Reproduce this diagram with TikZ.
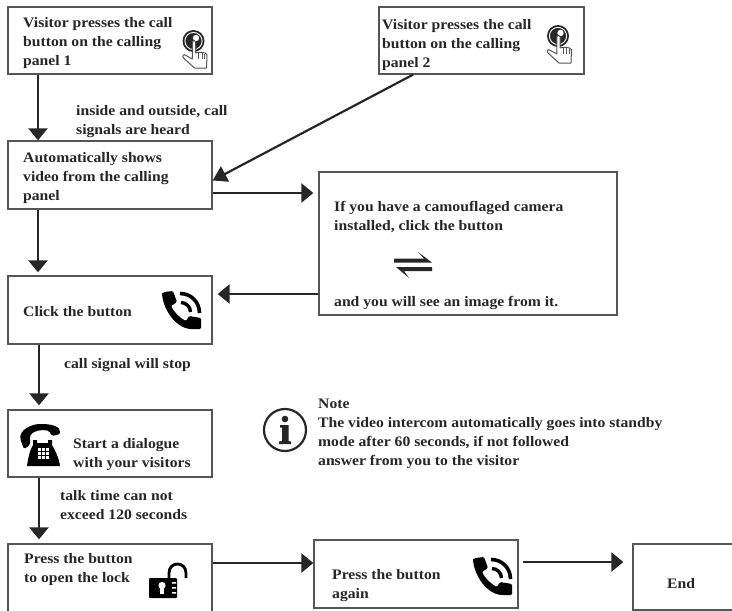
\documentclass[tikz,border=0pt]{standalone}
\usepackage{fontspec}
\setmainfont[FakeStretch=1.08]{Liberation Serif}
\usetikzlibrary{arrows.meta}
\definecolor{ink}{HTML}{262626}
\definecolor{edge}{HTML}{555555}
\tikzset{
  x=1pt,y=-1pt,
  box/.style={draw=edge,line width=1.3pt,fill=white,inner sep=0pt},
  lab/.style={anchor=north west,inner sep=0pt,align=left,text=ink,
     font=\bfseries\fontsize{14.5}{19}\selectfont},
  arr/.style={draw=ink,line width=2.6pt,-{Triangle[width=19pt,length=12pt]}},
  thinarr/.style={draw=ink,line width=2.2pt,-{Triangle[width=17pt,length=14pt]}},
  pics/handset/.style={code={
    \fill[black,rounded corners=1.2pt] (0,3) -- (2,1) -- (11,0) -- (15,11) -- (9,15)
      .. controls (12,21) and (18,27) .. (24,30) -- (27,25) -- (39,27) -- (39,38) -- (28,38)
      .. controls (14,36) and (2,20) .. (0,3) -- cycle;
    \draw[black,line width=3.6pt] (18,2.5) .. controls (29,2.5) and (37.5,11) .. (37.5,22);
    \draw[black,line width=3.4pt] (19,11.5) .. controls (24,11.5) and (28.5,16) .. (28.5,21);
  }},
  pics/pushbtn/.style={code={
    \fill[black!85] (0,0) circle[radius=11];
    \draw[white,line width=0.9pt] (0,0) circle[radius=8.6];
    \fill[white] (2.5,-3) circle[radius=3.2];
    \draw[edge,line width=1pt,line join=round,fill=white]
      (-1.2,1) .. controls (-1.2,-1.5) and (2.2,-1.5) .. (2.2,1) -- (2.2,12)
      .. controls (5,10.5) and (12,11) .. (13.5,13.5) -- (13,27) -- (1,27)
      -- (-10,17) .. controls (-12,14.5) and (-9.5,12.5) .. (-7.5,14.5) -- (-1.2,18) -- cycle;
    \draw[edge,line width=.7pt] (5.2,12) -- (5.2,18) (8.5,12) -- (8.5,18) (11.3,12.5) -- (11.3,18);
  }}
}
\begin{document}
\begin{tikzpicture}
\path[use as bounding box] (0,0) rectangle (732,611);
\clip (0,0) rectangle (732,611);

% boxes
\node[box,minimum width=204pt,minimum height=67pt] (b1) at (110,40.5) {};
\node[box,minimum width=205pt,minimum height=67pt] (p2) at (481.5,40.5) {};
\node[box,minimum width=204pt,minimum height=68pt] (b2) at (110,175) {};
\node[box,minimum width=298pt,minimum height=143pt] (cam) at (468,243.5) {};
\node[box,minimum width=204pt,minimum height=68pt] (click) at (110,310) {};
\node[box,minimum width=204pt,minimum height=67pt] (dial) at (110,443.5) {};
\node[box,minimum width=204pt,minimum height=68pt] (lock) at (110,578) {};
\node[box,minimum width=204pt,minimum height=68pt] (again) at (416,574) {};
\node[box,minimum width=102pt,minimum height=66pt] (endb) at (684,577) {};

% texts
\node[lab] (t1) at (23,17) {Visitor presses the call\\button on the calling\\panel 1};
\node[lab] (t2) at (382,19) {Visitor presses the call\\button on the calling\\panel 2};
\node[lab] (t3) at (76,105) {inside and outside, call\\signals are heard};
\node[lab] (t4) at (23,152) {Automatically shows\\video from the calling\\panel};
\node[lab] (t5) at (334,201) {If you have a camouflaged camera\\installed, click the button};
\node[lab] (t6) at (334,296) {and you will see an image from it.};
\node[lab] (t7) at (23,306) {Click the button};
\node[lab] (t8) at (64,358) {call signal will stop};
\node[lab] (t9) at (73,438) {Start a dialogue\\with your visitors};
\node[lab] (t10) at (60,490) {talk time can not\\exceed 120 seconds};
\node[lab] (t11) at (24,553) {Press the button\\to open the lock};
\node[lab] (t12) at (332,569) {Press the button\\again};
\node[lab] (t13) at (667,578) {End};
\node[lab] (t14) at (318,399) {Note\\The video intercom automatically goes into standby\\mode after 60 seconds, if not followed\\answer from you to the visitor};

% connectors
\draw[arr] ([xshift=-72pt]b1.south) -- ([xshift=-72pt]b2.north);
\draw[arr] ([xshift=-72pt]b2.south) -- ([xshift=-72pt,yshift=3pt]click.north);
\draw[arr] ([xshift=-71pt]click.south) -- ([xshift=-71pt,yshift=4pt]dial.north);
\draw[arr] ([xshift=-71pt]dial.south) -- ([xshift=-71pt,yshift=4pt]lock.north);
\draw[thinarr] ([xshift=-68.5pt]p2.south) -- ([yshift=-5.5pt]b2.east);
\draw[arr] ([yshift=-18pt]b2.east) -- ([xshift=-5pt,yshift=50.5pt]cam.west);
\draw[arr] ([yshift=-50.5pt]cam.west) -- ([xshift=5pt,yshift=16pt]click.east);
\draw[arr] ([yshift=15pt]lock.east) -- ([yshift=11pt]again.west);
\draw[arr] ([xshift=4pt,yshift=12pt]again.east) -- ([xshift=-9pt,yshift=15pt]endb.west);

% icons
\pic at (193.5,41) {pushbtn};
\pic at (558,36) {pushbtn};
\pic at (162,291) {handset};
\pic at (473,557) {handset};

% exchange arrows
\fill[ink] (394,258.5) -- (424,258.5) -- (418,252) -- (432,262.5) -- (394,262.5) -- cycle;
\fill[ink] (432,267) -- (396,267) -- (409,278) -- (404,271) -- (432,271) -- cycle;

% info sign
\draw[ink,line width=2.2pt] (285,430) circle[radius=21];
\fill[ink] (285,419) circle[radius=3.3];
\fill[ink] (280,425) -- (288.5,425) -- (288.5,441) -- (291,441.5) -- (291,444) -- (279,444)
  -- (279,441.5) -- (282,441) -- (282,427.5) -- (280,427.5) -- cycle;

% telephone
\fill[black,rounded corners=1.5pt] (21,441) .. controls (18,430) and (32,424) .. (41,424)
  .. controls (50,424) and (61,426) .. (60,434) -- (52,436) -- (49,431)
  .. controls (42,429) and (33,431) .. (30,436) -- (30,445) -- (24,449) -- cycle;
\fill[black] (33,445) -- (33,440) -- (37,440) -- (37,443) -- (48,443) -- (48,440) -- (52,440) -- (52,445)
  .. controls (55,450) and (59,458) .. (60,466) -- (27,466) .. controls (28,458) and (30,450) .. (33,445) -- cycle;
\foreach \i in {0,1,2}{\foreach \j in {0,1,2}{
  \fill[white] (38+\i*4.2,447.5+\j*4.2) rectangle ++(3,3);}}

% lock
\fill[black,rounded corners=1pt] (149,578) rectangle (177,598);
\fill[white] (162,585.5) circle[radius=3.6];
\fill[white] (160.4,586) rectangle (163.6,594);
\fill[white] (172,582) rectangle (176,583.5) (172,587) rectangle (176,588.5) (172,592) rectangle (176,593.5);
\draw[black,line width=2.8pt] (169,578) -- (169,573)
  .. controls (169,561) and (186,561) .. (186,573) -- (186,578);
\end{tikzpicture}
\end{document}
